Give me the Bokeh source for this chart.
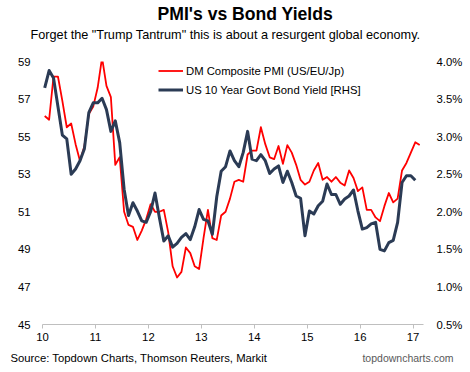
import pandas as pd
from bokeh.plotting import figure
from bokeh.models import (Range1d, LinearAxis, FixedTicker, PrintfTickFormatter,
                          Legend, LegendItem, Title)
from bokeh.embed import file_html
from bokeh.resources import INLINE

# ---- data (monthly, from Jan 2010) ----
pmi = [56.1, 55.9, 58.2, 58.2, 56.9, 55.5, 55.7, 54.6, 53.7, 54.5, 56.2, 56.6,
       57.6, 59.2, 57.7, 57.1, 53.5, 53.9, 51.0, 50.3, 50.2, 49.5, 50.0, 50.6,
       51.4, 51.0, 51.0, 51.1, 49.9, 48.1, 47.5, 47.8, 49.1, 48.8, 48.1, 47.95,
       49.6, 51.1, 49.6, 49.5, 50.8, 51.0, 51.7, 52.6, 52.7, 52.6, 54.05, 54.26,
       54.26, 55.5, 54.6, 53.9, 53.8, 54.5, 53.55, 54.55, 54.15, 53.5, 52.7, 52.45,
       52.6, 53.2, 53.6, 52.7, 52.85, 52.6, 52.85, 52.55, 52.4, 53.2, 52.8, 52.1,
       52.3, 51.1, 51.1, 50.7, 50.5, 51.3, 52.0, 51.5, 51.7, 53.2, 53.6, 54.15,
       54.7, 54.55]
yld = [3.65, 3.88, 3.78, 3.40, 3.02, 2.97, 2.50, 2.57, 2.68, 2.84, 3.32, 3.45,
       3.45, 3.51, 3.36, 3.07, 3.21, 2.92, 2.30, 1.95, 2.12, 2.01, 1.88, 1.86,
       2.00, 2.25, 1.92, 1.61, 1.68, 1.53, 1.58, 1.66, 1.71, 1.63, 1.80, 2.03,
       1.90, 1.88, 1.70, 2.20, 2.54, 2.60, 2.81, 2.68, 2.60, 2.79, 3.07, 2.70,
       2.68, 2.76, 2.68, 2.51, 2.57, 2.61, 2.39, 2.54, 2.39, 2.21, 2.18, 1.68,
       2.01, 1.97, 2.08, 2.14, 2.37, 2.23, 2.23, 2.10, 2.17, 2.21, 2.29, 2.01,
       1.77, 1.79, 1.84, 1.86, 1.50, 1.48, 1.59, 1.62, 1.86, 2.39, 2.48, 2.48,
       2.42]
pmi_months = pd.period_range("2010-01", periods=len(pmi), freq="M")
yld_months = pd.period_range("2010-01", periods=len(yld), freq="M")
x_ticks = [10, 11, 12, 13, 14, 15, 16, 17]
pmi_ticks = [45, 47, 49, 51, 53, 55, 57, 59]
yld_ticks = [0.5, 1.0, 1.5, 2.0, 2.5, 3.0, 3.5, 4.0]

def dec_year(months):
    return [m.year - 2000 + (m.month - 0.5) / 12 for m in months]

FONT = "Liberation Sans"
NAVY = "#2B3B55"
RED = "#FF0000"

p = figure(width=470, height=372, output_backend="svg", toolbar_location=None,
           x_range=Range1d(10, 17.197), y_range=Range1d(45, 59),
           min_border_left=42, min_border_right=47, min_border_top=60,
           min_border_bottom=48)
p.outline_line_color = None
p.xgrid.visible = False
p.ygrid.visible = False
p.extra_y_ranges = {"yld": Range1d(0.5, 4.0)}

# axes
xa = p.xaxis[0]
xa.ticker = FixedTicker(ticks=x_ticks)
xa.axis_line_color = "#BFBFBF"
xa.major_tick_line_color = "#BFBFBF"
xa.major_tick_out = 4
xa.major_tick_in = 0
xa.minor_tick_line_color = None
xa.major_label_standoff = 4
xa.major_label_text_font = FONT
xa.major_label_text_font_size = "11.3px"
xa.major_label_text_color = "#000000"

ya = p.yaxis[0]
ya.ticker = FixedTicker(ticks=pmi_ticks)
ya.axis_line_color = None
ya.major_tick_line_color = None
ya.minor_tick_line_color = None
ya.major_tick_out = 0
ya.major_tick_in = 0
ya.major_label_standoff = 12
ya.major_label_text_font = FONT
ya.major_label_text_font_size = "11.3px"
ya.major_label_text_color = "#000000"

ra = LinearAxis(y_range_name="yld", ticker=FixedTicker(ticks=yld_ticks),
                formatter=PrintfTickFormatter(format="%.1f%%"))
ra.axis_line_color = None
ra.major_tick_line_color = None
ra.minor_tick_line_color = None
ra.major_tick_out = 0
ra.major_tick_in = 0
ra.major_label_standoff = 13
ra.major_label_text_font = FONT
ra.major_label_text_font_size = "11.3px"
ra.major_label_text_color = "#000000"
p.add_layout(ra, "right")

# lines
r_pmi = p.line(dec_year(pmi_months), pmi, line_color=RED, line_width=1.8,
               line_join="round")
r_yld = p.line(dec_year(yld_months), yld, y_range_name="yld", line_color=NAVY,
               line_width=3, line_join="round")

legend = Legend(items=[LegendItem(label="DM Composite PMI (US/EU/Jp)", renderers=[r_pmi]),
                       LegendItem(label="US 10 Year Govt Bond Yield [RHS]", renderers=[r_yld])],
                location=(116, 224.8), padding=0, margin=0, spacing=0,
                glyph_width=25, glyph_height=19, label_height=19, label_standoff=3,
                border_line_color=None, background_fill_alpha=0,
                label_text_font=FONT, label_text_font_size="11.3px",
                label_text_color="#000000")
p.add_layout(legend, "center")

# titles: spacer first (closest to the frame), then subtitle, then title
p.add_layout(Title(text=" ", text_font=FONT, text_font_size="1px", standoff=15.5), "above")
p.add_layout(Title(text='Forget the "Trump Tantrum" this is about a resurgent global economy.',
                   text_font=FONT, text_font_size="12.7px", text_font_style="normal",
                   align="left", offset=-12, standoff=2, text_color="#000000"), "above")
p.add_layout(Title(text="PMI's vs Bond Yields", text_font=FONT, text_font_size="17.6px",
                   text_font_style="bold", align="left", offset=115, standoff=1.5,
                   text_color="#000000"), "above")
# footer: url first (zero-height panel), then the source line
p.add_layout(Title(text="topdowncharts.com",
                   text_font=FONT, text_font_size="10.5px", text_font_style="normal",
                   align="right", offset=-30, standoff=-40.4, text_color="#595959"), "below")
p.add_layout(Title(text="Source: Topdown Charts, Thomson Reuters, Markit",
                   text_font=FONT, text_font_size="11.3px", text_font_style="normal",
                   align="left", offset=-32, standoff=12, text_color="#000000"), "below")

open("out.html", "w").write(file_html(p, INLINE))
